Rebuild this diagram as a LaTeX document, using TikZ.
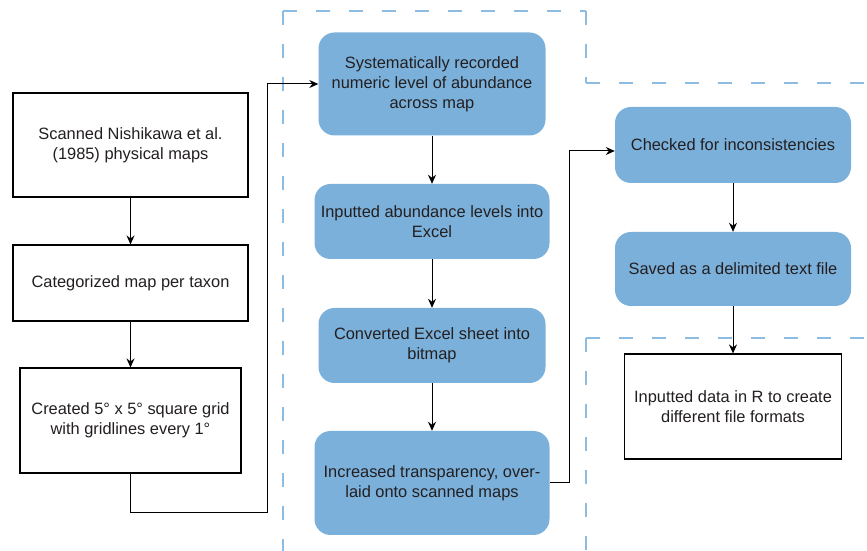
\documentclass[tikz,border=0pt]{standalone}
\usepackage{fontspec}
\setmainfont{Liberation Sans}
\usepackage{tikz}
\usepackage{xcolor}
\usetikzlibrary{arrows.meta}
\definecolor{boxblue}{RGB}{123,176,218}
\definecolor{dashblue}{RGB}{140,188,226}
\definecolor{txtgray}{RGB}{35,31,32}

\begin{document}
\begin{tikzpicture}[x=1pt, y=1pt,
    font=\fontsize{16.4}{20}\selectfont,
    plainbox/.style={draw=black, line width=1.1pt, fill=white, text=txtgray, align=center, inner sep=0pt},
    bluebox/.style={fill=boxblue, rounded corners=16pt, text=txtgray, align=center, inner sep=0pt},
    arr/.style={line width=1pt, -{Stealth[length=9pt,width=8pt]}},
    region/.style={dashblue, line width=1.3pt, dash pattern=on 14pt off 19pt}]
    \useasboundingbox (0,0) rectangle (867,551);
    \draw[region] (283,540) -- (283,0);
    \draw[region] (283,540) -- (586,540);
    \draw[region] (586,540) -- (586,468);
    \draw[region] (586,468) -- (867,468);
    \draw[region] (586,213) -- (586,0);
    \draw[region] (586,213) -- (867,213);
    % left column
    \node[plainbox, minimum width=235pt, minimum height=104pt] (scan) at (130.5,406) {Scanned Nishikawa et al.\\(1985) physical maps};
    \node[plainbox, minimum width=235pt, minimum height=76pt] (cat) at (130.5,268) {Categorized map per taxon};
    \node[plainbox, minimum width=221pt, minimum height=105pt] (grid) at (130.5,130.5) {Created 5° x 5° square grid\\with gridlines every 1°};
    % middle column
    \node[bluebox, minimum width=227pt, minimum height=103pt] (rec) at (432,467) {Systematically recorded\\numeric level of abundance\\across map};
    \node[bluebox, minimum width=235pt, minimum height=75pt] (inp) at (432,329.5) {Inputted abundance levels into\\Excel};
    \node[bluebox, minimum width=227pt, minimum height=75pt] (conv) at (432,205.5) {Converted Excel sheet into\\bitmap};
    \node[bluebox, minimum width=235pt, minimum height=104pt] (incr) at (432,68) {Increased transparency, over-\\laid onto scanned maps};
    % right column
    \node[bluebox, minimum width=236pt, minimum height=76pt] (check) at (733,406) {Checked for inconsistencies};
    \node[bluebox, minimum width=236pt, minimum height=74pt] (saved) at (733,282) {Saved as a delimited text file};
    \node[plainbox, minimum width=217pt, minimum height=105pt] (rdata) at (733,144.5) {Inputted data in R to create\\different file formats};
    \coordinate (lowleft) at (267,38);
    \coordinate (bend) at (569,400);
    \draw[arr] (scan) -- (cat);
    \draw[arr] (cat) -- (grid);
    \draw[arr] (grid.south) |- (lowleft) |- (rec.west);
    \draw[arr] (rec) -- (inp);
    \draw[arr] (inp) -- (conv);
    \draw[arr] (conv) -- (incr);
    \draw[arr] (incr.east) -| (bend) -- (bend -| check.west);
    \draw[arr] (check) -- (saved);
    \draw[arr] (saved) -- (rdata);
\end{tikzpicture}
\end{document}
